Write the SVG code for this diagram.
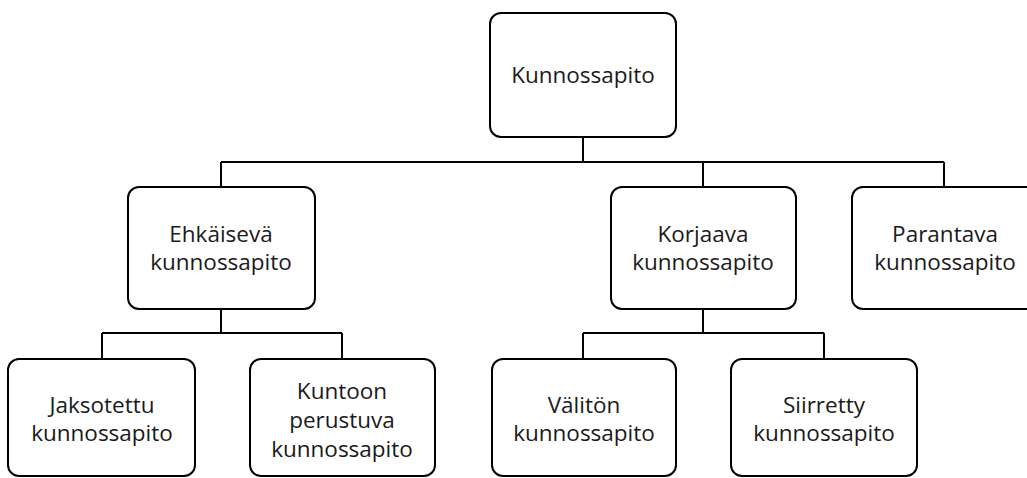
<svg xmlns="http://www.w3.org/2000/svg" width="1027" height="478" viewBox="0 0 1027 478">
<style>
.box{fill:#fff;stroke:#000;stroke-width:2}
.ln{fill:none;stroke:#000;stroke-width:2}
text{font-family:"Open Sans","Noto Sans","Liberation Sans",sans-serif;font-size:22.5px;fill:#1a1a1a;text-anchor:middle}
</style>
<rect width="1027" height="478" fill="#fff"/>
<g id="connectors">
<path class="ln" d="M583 137V162M221 162H944M221 162V187M703 162V187M944 162V187"/>
<path class="ln" d="M221 309V333M102 333H342M102 333V359M342 333V359"/>
<path class="ln" d="M703 309V333M583 333H824M583 333V359M824 333V359"/>
</g>
<g id="n-kunnossapito">
<rect class="box" x="490" y="13" width="186" height="124" rx="11"/>
<text x="583" y="83">Kunnossapito</text>
</g>
<g id="n-ehkaiseva">
<rect class="box" x="128" y="187" width="187" height="122" rx="11"/>
<text x="221" y="242">Ehkäisevä</text>
<text x="221" y="270">kunnossapito</text>
</g>
<g id="n-korjaava">
<rect class="box" x="611" y="187" width="185" height="122" rx="11"/>
<text x="703" y="242">Korjaava</text>
<text x="703" y="270">kunnossapito</text>
</g>
<g id="n-parantava">
<rect class="box" x="852" y="187" width="186" height="122" rx="11"/>
<text x="945" y="242">Parantava</text>
<text x="945" y="270">kunnossapito</text>
</g>
<g id="n-jaksotettu">
<rect class="box" x="8" y="359" width="187" height="117" rx="11"/>
<text x="102" y="413">Jaksotettu</text>
<text x="102" y="441">kunnossapito</text>
</g>
<g id="n-kuntoon">
<rect class="box" x="250" y="359" width="185" height="117" rx="11"/>
<text x="342" y="399">Kuntoon</text>
<text x="342" y="428">perustuva</text>
<text x="342" y="457">kunnossapito</text>
</g>
<g id="n-valiton">
<rect class="box" x="492" y="359" width="184" height="117" rx="11"/>
<text x="584" y="413">Välitön</text>
<text x="584" y="441">kunnossapito</text>
</g>
<g id="n-siirretty">
<rect class="box" x="731" y="359" width="186" height="117" rx="11"/>
<text x="824" y="413">Siirretty</text>
<text x="824" y="441">kunnossapito</text>
</g>
</svg>
